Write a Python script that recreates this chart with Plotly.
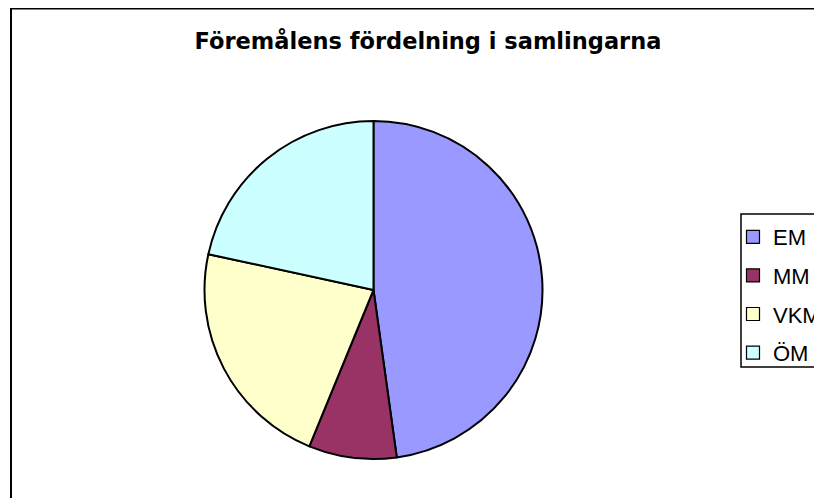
import plotly.graph_objects as go

labels = ["EM", "MM", "VKM", "ÖM"]
values = [47.8, 8.4, 22.2, 21.6]
colors = ["#9999FF", "#993366", "#FFFFCC", "#CCFFFF"]
title_text = "Föremålens fördelning i samlingarna"

# the page body has an 8px margin, so the figure is sized to the visible area
W, H = 814, 490
CX, CY, R = 365.5, 282, 169

fig = go.Figure()
fig.add_trace(go.Pie(
    labels=labels,
    values=values,
    sort=False,
    direction="clockwise",
    rotation=0,
    textinfo="none",
    hoverinfo="label+percent",
    showlegend=False,
    marker=dict(colors=colors, line=dict(color="black", width=2)),
    domain=dict(x=[(CX - R) / W, (CX + R) / W],
                y=[(H - CY - R) / H, (H - CY + R) / H]),
))

# legend entries (one per slice, same labels/colours)
for i, (lab, col) in enumerate(zip(labels, colors)):
    fig.add_trace(go.Scatter(
        x=[None], y=[None], mode="markers", name=lab,
        legendgroup="g%d" % i,
        marker=dict(symbol="square", size=13, color=col,
                    line=dict(color="black", width=1.2)),
        hoverinfo="skip",
    ))

fig.update_layout(
    width=W, height=H,
    margin=dict(l=0, r=0, t=0, b=0, autoexpand=False),
    paper_bgcolor="white",
    plot_bgcolor="white",
    xaxis=dict(visible=False, range=[0, 1]),
    yaxis=dict(visible=False, range=[0, 1]),
    title=dict(text="<b>" + title_text + "</b>", x=420 / W, xanchor="center",
               y=1 - 33 / H, yanchor="middle",
               font=dict(family="DejaVu Sans", size=22.5, color="black")),
    legend=dict(x=725 / W, xanchor="left", y=1 - 208 / H, yanchor="top",
                borderwidth=0, bgcolor="rgba(0,0,0,0)",
                tracegroupgap=7, traceorder="grouped",
                font=dict(family="Liberation Sans, Arial", size=22, color="black"),
                itemclick=False, itemdoubleclick=False),
    shapes=[
        dict(type="rect", xref="paper", yref="paper",
             x0=3 / W, x1=1.05, y0=-0.05, y1=1 - 0.5 / H,
             line=dict(color="black", width=2), fillcolor="rgba(0,0,0,0)",
             layer="below"),
        dict(type="rect", xref="paper", yref="paper",
             x0=733 / W, x1=1.05, y0=1 - 359 / H, y1=1 - 206 / H,
             line=dict(color="black", width=1.5), fillcolor="rgba(0,0,0,0)",
             layer="below"),
    ],
)

fig.write_html("out.html")
